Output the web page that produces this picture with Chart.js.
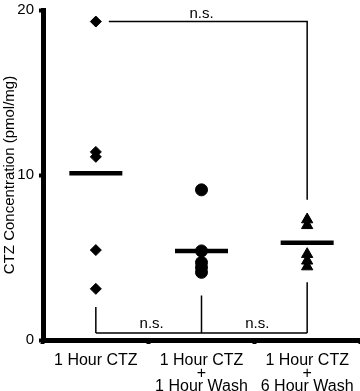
<!DOCTYPE html>
<html><head><meta charset="utf-8">
<script src="https://cdn.jsdelivr.net/npm/chart.js@4"></script>
<style>html,body{margin:0;padding:0;background:#fff}#wrap{width:360px;height:391px;position:relative}</style>
</head><body><div id="wrap"><canvas id="c"></canvas></div>
<script>
const categories = ['1 Hour CTZ', '1 Hour CTZ + 1 Hour Wash', '1 Hour CTZ + 6 Hour Wash'];
const categoryLabelLines = [['1 Hour CTZ'], ['1 Hour CTZ', '+', '1 Hour Wash'], ['1 Hour CTZ', '+', '6 Hour Wash']];
const ctzOnly = [19.3, 11.4, 11.1, 5.45, 3.1];
const wash1h = [9.1, 5.4, 4.7, 4.4, 4.1];
const wash6h = [7.3, 6.95, 5.2, 4.8, 4.45];
const groupMeans = [10.1, 5.4, 5.9];
const yTicks = [0, 10, 20];
const yTitle = 'CTZ Concentration (pmol/mg)';
const sigLabel = 'n.s.';
const topComparison = [0, 2];
const topBracketLevel = 19.3;
const topBracketDrop = 8.5;
const bottomComparisons = [[0, 1], [1, 2]];
const bottomBracketLevel = 0.42;
const bottomBracketStems = [2.0, 2.7, 3.5];

const FONT = 'Liberation Sans, Arial, sans-serif';

const bracketPlugin = {
  id: 'brackets',
  afterDatasetsDraw(chart) {
    const ctx = chart.ctx, xs = chart.scales.x, ys = chart.scales.y;
    ctx.save();
    ctx.strokeStyle = '#000';
    ctx.fillStyle = '#000';
    ctx.lineWidth = 1.5;
    ctx.font = '15px ' + FONT;
    ctx.textAlign = 'center';
    ctx.textBaseline = 'alphabetic';
    const tx0 = xs.getPixelForValue(topComparison[0]) + 13;
    const tx1 = xs.getPixelForValue(topComparison[1]);
    const ty = ys.getPixelForValue(topBracketLevel);
    ctx.beginPath();
    ctx.moveTo(tx0, ty);
    ctx.lineTo(tx1, ty);
    ctx.lineTo(tx1, ys.getPixelForValue(topBracketDrop));
    ctx.stroke();
    ctx.fillText(sigLabel, (xs.getPixelForValue(topComparison[0]) + tx1) / 2, ty - 4);
    const by = ys.getPixelForValue(bottomBracketLevel);
    ctx.beginPath();
    bottomBracketStems.forEach((v, i) => {
      const px = xs.getPixelForValue(i);
      ctx.moveTo(px, ys.getPixelForValue(v));
      ctx.lineTo(px, by);
    });
    ctx.moveTo(xs.getPixelForValue(0), by);
    ctx.lineTo(xs.getPixelForValue(bottomBracketStems.length - 1), by);
    ctx.stroke();
    bottomComparisons.forEach(([a, b]) => {
      ctx.fillText(sigLabel, (xs.getPixelForValue(a) + xs.getPixelForValue(b)) / 2 + 3, by - 5);
    });
    ctx.restore();
  }
};

const pointDs = (vals, cat, style, r) => ({
  type: 'line',
  data: vals.map(v => ({ x: categories[cat], y: v })),
  showLine: false,
  pointStyle: style,
  pointRadius: r,
  pointHoverRadius: r,
  pointBackgroundColor: '#000',
  pointBorderColor: '#000',
  pointBorderWidth: 1
});

new Chart(document.getElementById('c'), {
  type: 'line',
  data: {
    labels: categories,
    datasets: [
      pointDs(ctzOnly, 0, 'rectRot', 5.5),
      pointDs(wash1h, 1, 'circle', 6),
      pointDs(wash6h, 2, 'triangle', 6.5),
      {
        type: 'line',
        data: groupMeans,
        showLine: false,
        pointStyle: 'line',
        pointRadius: 26.5,
        pointHoverRadius: 26.5,
        pointBorderColor: '#000',
        pointBorderWidth: 4.5
      }
    ]
  },
  options: {
    responsive: true,
    maintainAspectRatio: false,
    animation: false,
    layout: { autoPadding: false, padding: { top: 10, right: 0, left: 0, bottom: 0 } },
    plugins: { legend: { display: false }, tooltip: { enabled: false } },
    scales: {
      x: {
        type: 'category',
        labels: categories,
        offset: true,
        grid: { offset: true, drawOnChartArea: false, tickLength: 4, tickWidth: 4, tickColor: '#000' },
        border: { color: '#000', width: 5 },
        ticks: {
          color: '#000', padding: 10, maxRotation: 0, autoSkip: false,
          font: { family: FONT, size: 16, lineHeight: 0.82 },
          callback: (v, i) => categoryLabelLines[i]
        },
        afterFit: s => { s.height = 51; s.paddingLeft = 0; s.paddingRight = 0; }
      },
      y: {
        min: 0, max: 20,
        afterBuildTicks: s => { s.ticks = yTicks.map(v => ({ value: v })); },
        grid: { drawOnChartArea: false, tickLength: 4, tickWidth: 4, tickColor: '#000' },
        border: { color: '#000', width: 5 },
        ticks: { color: '#000', padding: 5, font: { family: FONT, size: 15 } },
        title: { display: true, text: yTitle, color: '#000', font: { family: FONT, size: 15 }, padding: { top: 1, bottom: 0 } },
        afterFit: s => { s.width = 43; s.paddingTop = 0; s.paddingBottom = 0; }
      }
    }
  },
  plugins: [bracketPlugin]
});
</script>
</body></html>
